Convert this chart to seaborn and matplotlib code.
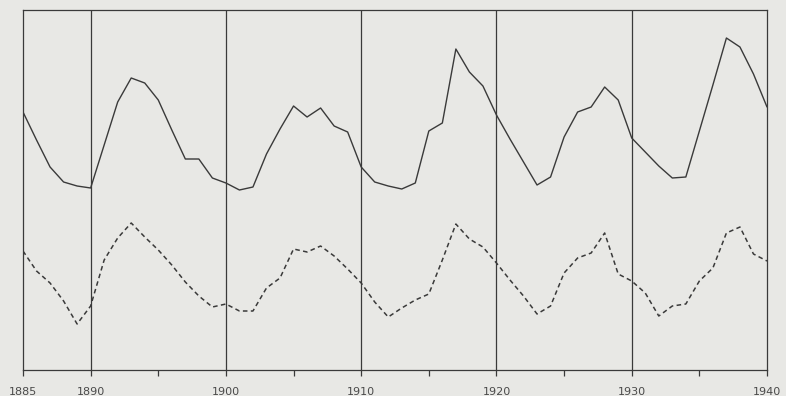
import numpy as np
import pandas as pd
import matplotlib
matplotlib.use("Agg")
import matplotlib.pyplot as plt
import seaborn as sns

# Años (serie anual 1885-1940)
years = list(range(1885, 1941))

# Curva superior (línea continua), altura relativa
upper = [258, 230, 203, 188, 184, 182,
         225, 268, 292, 287, 270, 240, 211, 211, 192, 187,
         180, 183, 216, 241, 264, 253, 262, 244, 238, 203,
         188, 184, 181, 187, 239, 247, 321, 298, 284, 255,
         231, 208, 185, 193, 233, 258, 263, 283, 270, 232,
         218, 204, 192, 193, 239, 285, 332, 323, 296, 263]

# Curva inferior (línea discontinua)
lower = [119, 99, 87, 69, 46, 64,
         110, 132, 147, 133, 120, 105, 88, 74, 63, 66,
         59, 59, 82, 92, 121, 118, 124, 114, 101, 87,
         68, 53, 62, 70, 76, 110, 146, 131, 123, 107,
         90, 74, 56, 64, 97, 112, 117, 137, 96, 89,
         77, 54, 64, 66, 89, 102, 137, 143, 116, 109]

decades = [1890, 1900, 1910, 1920, 1930]
tick_pos = list(range(1885, 1941, 5))
tick_lbl = ["1885", "1890", "", "1900", "", "1910", "", "1920", "", "1930", "", "1940"]

df = pd.DataFrame({"año": years, "superior": upper, "inferior": lower})

bg = "#e8e8e5"
ink = "#3a3a3a"

sns.set_style("white")
plt.rcParams["font.family"] = ["DejaVu Sans"]

fig = plt.figure(figsize=(7.86, 3.96), dpi=100, facecolor=bg)
ax = fig.add_axes([23 / 786, 26 / 396, 744 / 786, 360 / 396])
ax.set_facecolor(bg)

sns.lineplot(data=df, x="año", y="superior", ax=ax, color=ink, lw=1.0)
sns.lineplot(data=df, x="año", y="inferior", ax=ax, color=ink, lw=1.1,
             linestyle=(0, (3, 2.2)))

for d in decades:
    ax.axvline(d, color=ink, lw=0.9)

ax.set_xlim(1885, 1940)
ax.set_ylim(0, 360)
ax.set_xticks(tick_pos)
ax.set_xticklabels(tick_lbl)
ax.set_yticks([])
ax.set_xlabel("")
ax.set_ylabel("")
ax.tick_params(axis="x", direction="out", length=4, width=0.9, color=ink,
               labelsize=8, labelcolor="#4a4a4a", pad=8, bottom=True)
for s in ax.spines.values():
    s.set_color(ink)
    s.set_linewidth(0.9)

fig.savefig("out.png", dpi=100, facecolor=bg)
